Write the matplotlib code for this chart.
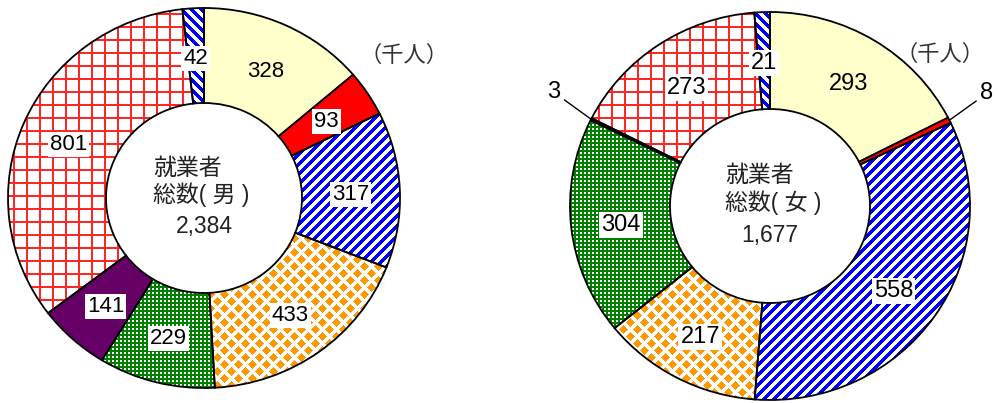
import numpy as np
import matplotlib
matplotlib.use('Agg')
import matplotlib.pyplot as plt

W, H = 998, 403

# 就業者数（千人）: 12時の位置から時計回り
male_values = [328, 93, 317, 433, 229, 141, 801, 42]
female_values = [293, 8, 558, 217, 304, 3, 273, 21]
male_title = '就業者\n総数( 男 )'
female_title = '就業者\n総数( 女 )'
unit_label = '（千人）'

# 区分ごとの塗り（左右共通）
styles = ['yellow', 'red', 'stripe_ne', 'diamond', 'checker', 'purple', 'grid', 'stripe_nw']
solid = {'yellow': '#FFFFCC', 'red': '#FF0000', 'purple': '#660066'}

plt.rcParams['font.family'] = ['Liberation Sans', 'Noto Sans CJK JP']


def pattern(kind, X, Y):
    img = np.ones(X.shape + (3,))
    if kind == 'stripe_ne':
        mask, col = (X + Y) % 10 < 5, (0, 0, 1)
    elif kind == 'stripe_nw':
        mask, col = (X - Y) % 10 < 5, (0, 0, 1)
    elif kind == 'diamond':
        p = 14
        d1 = np.abs((X + p / 2) % p - p / 2) + np.abs((Y + p / 2) % p - p / 2)
        d2 = np.abs(X % p - p / 2) + np.abs(Y % p - p / 2)
        mask, col = np.minimum(d1, d2) < 4.3, (1, 0.6, 0)
    elif kind == 'checker':
        mask, col = ~((X % 4 < 2) & (Y % 4 < 2)), (0, 0.5, 0)
    else:  # grid
        mask, col = (X % 13 < 2) | (Y % 13 < 2), (1, 0.15, 0.15)
    img[mask] = col
    return img


fig = plt.figure(figsize=(W / 100, H / 100), dpi=100)


def donut(box, values, title, fs, title_dx):
    # box: (left, top, width, height) in pixels
    x0, top, w, h = box
    ax = fig.add_axes([x0 / W, (H - top - h) / H, w / W, h / H])
    wedges, _ = ax.pie(values, startangle=90, counterclock=False, radius=1,
                       wedgeprops=dict(width=0.5, edgecolor='black', linewidth=1.3))
    X, Y = np.meshgrid(np.arange(w) + x0, np.arange(h) + top)
    for wdg, st in zip(wedges, styles):
        if st in solid:
            wdg.set_facecolor(solid[st])
        else:
            wdg.set_facecolor('none')
            im = ax.imshow(pattern(st, X, Y), extent=(-1, 1, -1, 1), origin='upper',
                           interpolation='nearest', aspect='auto', zorder=0.5)
            im.set_clip_path(wdg)
        wdg.set_zorder(2)
    ax.set_aspect('auto')
    ax.set_xlim(-1, 1)
    ax.set_ylim(-1, 1)
    ax.axis('off')

    for wdg, v, st in zip(wedges, values, styles):
        ang = np.deg2rad((wdg.theta1 + wdg.theta2) / 2)
        c, s = np.cos(ang), np.sin(ang)
        if v < 10:
            # 細い区分は外側に引出線
            ax.annotate(str(v), xy=(c, s), xytext=(30 * c, 30 * s + 6),
                        textcoords='offset points', ha='center', va='center',
                        fontsize=fs, annotation_clip=False,
                        arrowprops=dict(arrowstyle='-', color='black', lw=1,
                                        shrinkA=1, shrinkB=0))
        else:
            bbox = None if st == 'yellow' else dict(facecolor='white', edgecolor='none', pad=1.5)
            ax.text(0.75 * c, 0.75 * s, str(v), ha='center', va='center_baseline',
                    fontsize=fs, bbox=bbox, zorder=4)

    ax.text(title_dx, 0.085, title, ha='left', va='center', fontsize=16.5,
            linespacing=1.15, color='#222222', zorder=4)
    ax.text(0, -0.15, f'{sum(values):,}', ha='center', va='center', fontsize=16.5,
            color='#222222', zorder=4)
    return ax


donut((8, 8, 392, 380), male_values, male_title, 16, -0.26)
donut((570, 12, 400, 388), female_values, female_title, 17, -0.225)

fig.text(404 / W, 1 - 56 / H, unit_label, ha='center', va='center', fontsize=16, color='#333333')
fig.text(940 / W, 1 - 55 / H, unit_label, ha='center', va='center', fontsize=16, color='#333333')

fig.savefig('out.png', dpi=100)
